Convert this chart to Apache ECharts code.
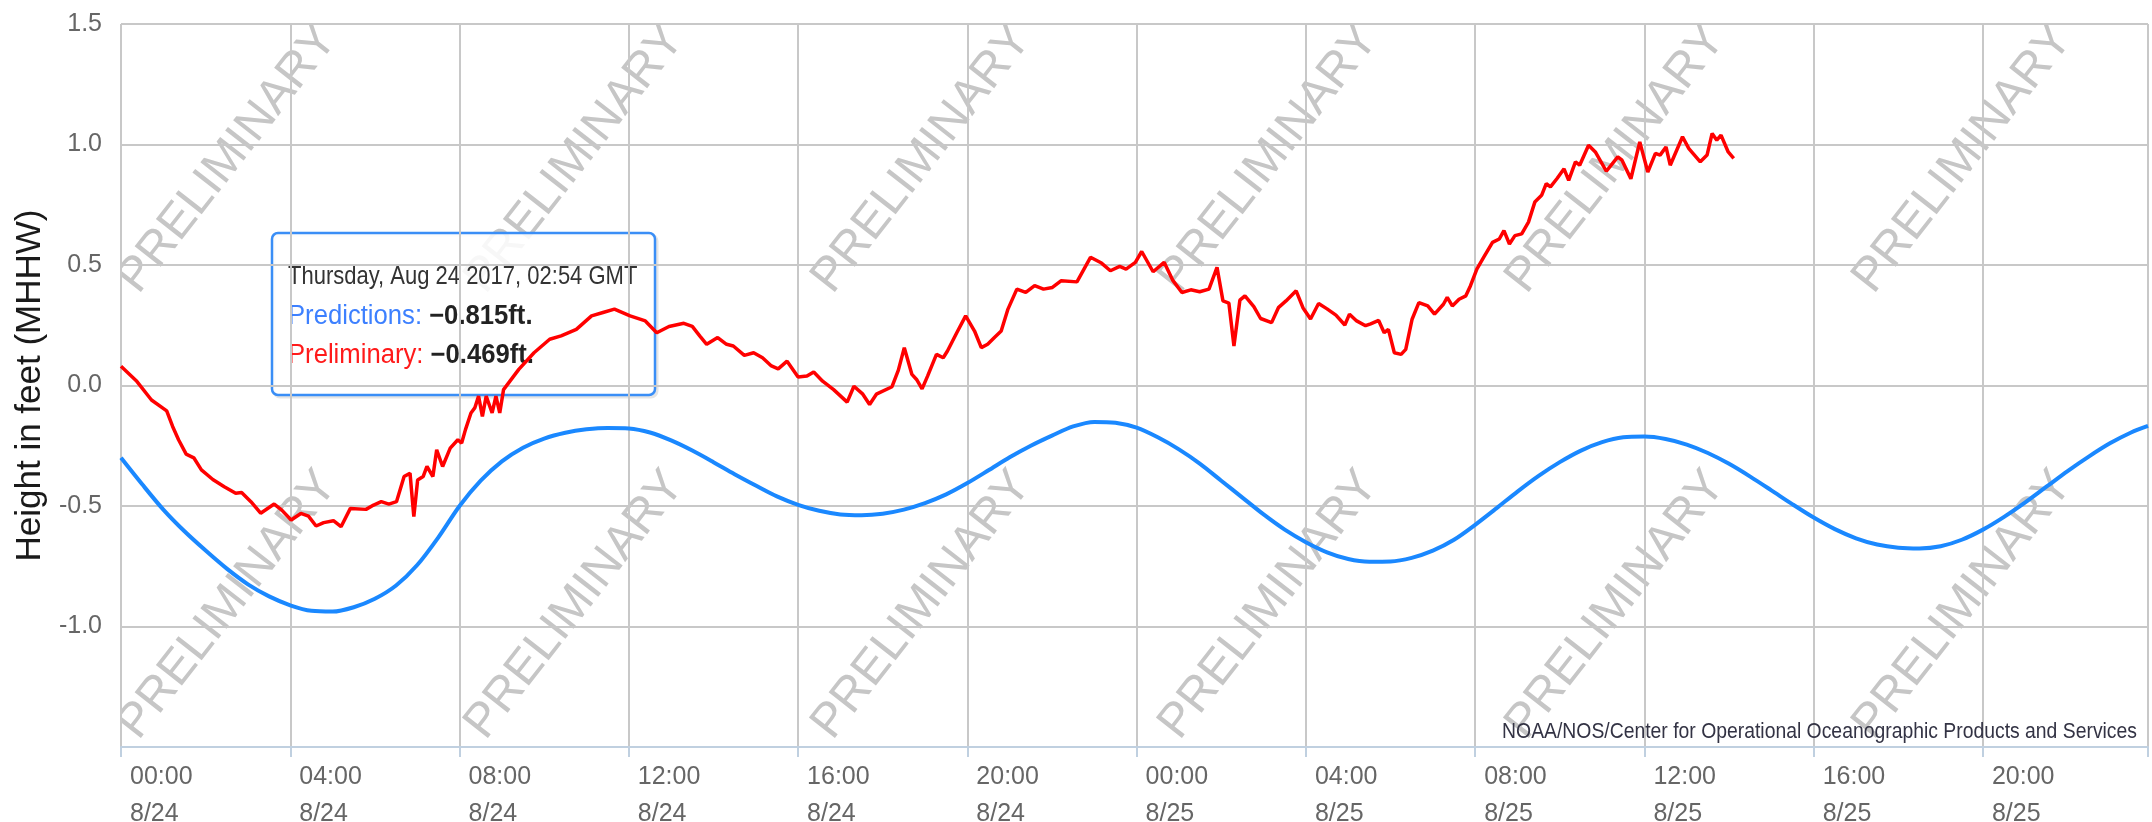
<!DOCTYPE html>
<html>
<head>
<meta charset="utf-8">
<script src="https://cdn.jsdelivr.net/npm/echarts/dist/echarts.min.js"></script>
<style>
html,body{margin:0;padding:0;background:#ffffff;}
#chart{width:2152px;height:822px;}
</style>
</head>
<body>
<div id="chart"></div>
<script>
// ---- data (x = hours since 00:00 GMT 8/24/2017) ----
const xTickLabels = ['00:00\n8/24','04:00\n8/24','08:00\n8/24','12:00\n8/24','16:00\n8/24','20:00\n8/24',
                     '00:00\n8/25','04:00\n8/25','08:00\n8/25','12:00\n8/25','16:00\n8/25','20:00\n8/25'];
const yTickLabels = ['', '-1.0', '-0.5', '0.0', '0.5', '1.0', '1.5'];

const predictions = [
  [0,-0.30],[0.5,-0.41],[1,-0.515],[1.5,-0.605],[2,-0.685],[2.5,-0.76],[3,-0.825],[3.5,-0.875],
  [4,-0.912],[4.5,-0.935],[5,-0.938],[5.5,-0.92],[6,-0.885],[6.5,-0.83],[7,-0.745],[7.5,-0.63],
  [8,-0.50],[8.5,-0.395],[9,-0.315],[9.5,-0.258],[10,-0.22],[10.5,-0.196],[11,-0.182],[11.5,-0.176],
  [12,-0.178],[12.5,-0.195],[13,-0.228],[13.5,-0.27],[14,-0.318],[14.5,-0.368],[15,-0.415],[15.5,-0.46],
  [16,-0.495],[16.5,-0.52],[17,-0.535],[17.5,-0.538],[18,-0.532],[18.5,-0.515],[19,-0.488],[19.5,-0.452],
  [20,-0.405],[20.5,-0.352],[21,-0.298],[21.5,-0.25],[22,-0.208],[22.5,-0.17],[23,-0.151],[23.5,-0.155],
  [24,-0.175],[24.5,-0.215],[25,-0.265],[25.5,-0.325],[26,-0.395],[26.5,-0.465],[27,-0.535],[27.5,-0.598],
  [28,-0.65],[28.5,-0.692],[29,-0.72],[29.5,-0.731],[30,-0.73],[30.5,-0.715],[31,-0.685],[31.5,-0.64],
  [32,-0.578],[32.5,-0.51],[33,-0.44],[33.5,-0.375],[34,-0.318],[34.5,-0.27],[35,-0.235],[35.5,-0.215],
  [36,-0.212],[36.5,-0.222],[37,-0.245],[37.5,-0.28],[38,-0.325],[38.5,-0.378],[39,-0.435],[39.5,-0.493],
  [40,-0.548],[40.5,-0.596],[41,-0.634],[41.5,-0.66],[42,-0.673],[42.5,-0.676],[43,-0.667],[43.5,-0.64],
  [44,-0.598],[44.5,-0.545],[45,-0.485],[45.5,-0.42],[46,-0.355],[46.5,-0.295],[47,-0.24],[47.5,-0.195],
  [47.9,-0.168]
];

const preliminary = [
  [0,0.08],[0.36,0.02],[0.72,-0.06],[1.08,-0.105],[1.22,-0.17],[1.36,-0.225],[1.54,-0.285],[1.72,-0.30],
  [1.9,-0.35],[2.17,-0.39],[2.44,-0.42],[2.71,-0.447],[2.85,-0.444],[3.07,-0.482],[3.3,-0.53],[3.62,-0.492],
  [3.8,-0.517],[4.02,-0.558],[4.25,-0.531],[4.43,-0.542],[4.61,-0.583],[4.79,-0.569],[5.02,-0.561],[5.2,-0.586],
  [5.42,-0.51],[5.79,-0.514],[5.97,-0.496],[6.15,-0.482],[6.33,-0.492],[6.51,-0.482],[6.69,-0.378],[6.83,-0.364],
  [6.92,-0.544],[7.01,-0.392],[7.14,-0.378],[7.23,-0.336],[7.37,-0.378],[7.46,-0.267],[7.6,-0.336],[7.78,-0.26],
  [7.96,-0.225],[8.05,-0.239],[8.14,-0.183],[8.27,-0.114],[8.36,-0.093],[8.45,-0.044],[8.54,-0.128],[8.63,-0.044],
  [8.77,-0.114],[8.86,-0.044],[8.95,-0.114],[9.04,-0.017],[9.4,0.067],[9.76,0.136],[10.13,0.192],[10.4,0.206],
  [10.76,0.233],[11.12,0.289],[11.39,0.303],[11.66,0.317],[12.03,0.289],[12.39,0.268],[12.66,0.219],[12.95,0.245],
  [13.3,0.258],[13.5,0.245],[13.68,0.205],[13.84,0.171],[14.1,0.199],[14.31,0.171],[14.47,0.164],[14.73,0.125],
  [14.95,0.136],[15.16,0.115],[15.37,0.081],[15.53,0.069],[15.74,0.101],[16.0,0.035],[16.21,0.039],[16.37,0.056],
  [16.58,0.018],[16.84,-0.017],[17.16,-0.069],[17.32,-0.003],[17.53,-0.036],[17.69,-0.079],[17.85,-0.036],[18.22,-0.005],
  [18.37,0.064],[18.51,0.157],[18.69,0.046],[18.8,0.025],[18.93,-0.014],[19.06,0.039],[19.27,0.129],[19.43,0.115],
  [19.53,0.143],[19.75,0.219],[19.96,0.289],[20.17,0.226],[20.33,0.157],[20.48,0.171],[20.64,0.199],[20.8,0.226],
  [20.96,0.317],[21.17,0.4],[21.38,0.386],[21.59,0.414],[21.8,0.4],[22.01,0.407],[22.22,0.435],[22.59,0.43],
  [22.91,0.532],[23.17,0.508],[23.38,0.476],[23.6,0.494],[23.75,0.483],[23.97,0.511],[24.12,0.556],[24.39,0.472],
  [24.65,0.511],[24.86,0.435],[25.07,0.386],[25.28,0.397],[25.49,0.389],[25.71,0.4],[25.9,0.49],[26.04,0.351],
  [26.18,0.342],[26.3,0.164],[26.44,0.354],[26.56,0.372],[26.77,0.327],[26.93,0.278],[27.19,0.261],[27.35,0.323],
  [27.53,0.351],[27.77,0.393],[27.93,0.323],[28.11,0.276],[28.3,0.34],[28.5,0.318],[28.71,0.292],[28.92,0.251],
  [29.03,0.296],[29.2,0.268],[29.41,0.248],[29.53,0.256],[29.72,0.27],[29.85,0.219],[29.95,0.233],[30.09,0.136],
  [30.25,0.129],[30.36,0.15],[30.51,0.275],[30.67,0.344],[30.88,0.33],[31.04,0.296],[31.25,0.337],[31.34,0.366],
  [31.46,0.33],[31.62,0.358],[31.78,0.372],[31.89,0.414],[32.04,0.483],[32.2,0.532],[32.41,0.594],[32.57,0.608],
  [32.68,0.643],[32.81,0.587],[32.94,0.622],[33.1,0.629],[33.26,0.678],[33.41,0.761],[33.57,0.789],[33.68,0.838],
  [33.78,0.824],[33.94,0.86],[34.1,0.899],[34.21,0.851],[34.37,0.928],[34.47,0.914],[34.68,0.997],[34.84,0.969],
  [35.1,0.889],[35.37,0.949],[35.47,0.935],[35.68,0.858],[35.89,1.011],[36.08,0.886],[36.26,0.963],[36.37,0.956],
  [36.51,0.99],[36.61,0.914],[36.9,1.032],[37.05,0.983],[37.32,0.928],[37.48,0.956],[37.6,1.046],[37.71,1.018],
  [37.81,1.039],[37.98,0.969],[38.11,0.942]
];

const tooltipHeader = 'Thursday, Aug 24 2017, 02:54 GMT';
const tooltipPred = ['Predictions: ', '\u22120.815ft.'];
const tooltipPrelim = ['Preliminary: ', '\u22120.469ft.'];
const creditText = 'NOAA/NOS/Center for Operational Oceanographic Products and Services';
const watermarkText = 'PRELIMINARY';
const axisTitle = 'Height in feet (MHHW)';

// ---- chart ----
const FONT = '"Liberation Sans", Arial, sans-serif';
const BLUE = '#1a88ff';
const RED = '#ff0000';

const chart = echarts.init(document.getElementById('chart'), null, {renderer: 'canvas'});

const wmCols = [228, 575, 922, 1269, 1616, 1963];
const wmRows = [159, 605];
const graphics = [];
wmRows.forEach(function (cy) {
  wmCols.forEach(function (cx) {
    graphics.push({
      type: 'text', x: cx, y: cy, rotation: 52 * Math.PI / 180,
      z: -2, silent: true,
      style: {text: watermarkText, fill: '#c6c6c6', font: '48px ' + FONT, align: 'center', verticalAlign: 'middle'}
    });
  });
});
// masks keeping the watermark inside the plot area
[[0,0,121,822],[0,747,2152,75],[2148,0,4,822],[0,0,2152,24]].forEach(function (r) {
  graphics.push({type: 'rect', z: -1, silent: true, shape: {x: r[0], y: r[1], width: r[2], height: r[3]}, style: {fill: '#ffffff'}});
});
graphics.push({
  type: 'text', x: 2137, y: 732, z: 9, silent: true, scaleX: 0.88,
  style: {text: creditText, fill: '#333344', font: '22px ' + FONT, align: 'right', verticalAlign: 'middle'}
});
graphics.push({
  type: 'group', z: 10, silent: true,
  children: [
    {type: 'rect', shape: {x: 274, y: 235, width: 383, height: 162, r: 6},
     style: {fill: 'none', stroke: 'rgba(0,0,0,0.10)', lineWidth: 3}},
    {type: 'rect', shape: {x: 272, y: 233, width: 383, height: 162, r: 6},
     style: {fill: 'rgba(255,255,255,0.86)', stroke: '#3a8ef6', lineWidth: 2.5}},
    {type: 'text', x: 288, y: 277, scaleX: 0.88,
     style: {text: tooltipHeader, fill: '#333333', font: '25px ' + FONT, verticalAlign: 'middle'}},
    {type: 'text', x: 288, y: 317, scaleX: 0.95,
     style: {text: '{a|' + tooltipPred[0] + '}{b|' + tooltipPred[1] + '}', verticalAlign: 'middle',
             rich: {a: {fill: '#3d80ff', font: '27px ' + FONT}, b: {fill: '#222222', font: 'bold 27px ' + FONT}}}},
    {type: 'text', x: 288, y: 356, scaleX: 0.95,
     style: {text: '{a|' + tooltipPrelim[0] + '}{b|' + tooltipPrelim[1] + '}', verticalAlign: 'middle',
             rich: {a: {fill: '#ff1a1a', font: '27px ' + FONT}, b: {fill: '#222222', font: 'bold 27px ' + FONT}}}}
  ]
});

const option = {
  animation: false,
  backgroundColor: '#ffffff',
  grid: {left: 121, right: 4, top: 24, bottom: 75, containLabel: false, outerBoundsMode: 'none'},
  xAxis: {
    type: 'value', min: 0, max: 47.9, interval: 4,
    axisLine: {show: true, onZero: false, lineStyle: {color: '#c0d0e0', width: 2}},
    axisTick: {show: true, length: 10, lineStyle: {color: '#c0d0e0', width: 2}},
    splitLine: {show: true, lineStyle: {color: '#c8c8c8', width: 2}},
    axisLabel: {
      show: true, margin: 12, align: 'left', padding: [0, 0, 0, 9],
      color: '#666666', fontFamily: FONT, fontSize: 25, lineHeight: 37,
      formatter: function (v) {
        const i = Math.round(v / 4);
        return (Math.abs(v - i * 4) < 1e-6 && i < xTickLabels.length) ? xTickLabels[i] : '';
      }
    }
  },
  yAxis: {
    type: 'value', min: -1.5, max: 1.5, interval: 0.5,
    name: axisTitle, nameLocation: 'middle', nameGap: 70,
    nameTextStyle: {fontFamily: FONT, fontSize: 35, color: '#1a1a1a'},
    axisLine: {show: false}, axisTick: {show: false},
    splitLine: {show: true, lineStyle: {color: '#c8c8c8', width: 2}},
    axisLabel: {
      margin: 19, color: '#666666', fontFamily: FONT, fontSize: 25,
      formatter: function (v) {
        const i = Math.round((v + 1.5) / 0.5);
        return yTickLabels[i] !== undefined ? yTickLabels[i] : '';
      }
    }
  },
  series: [
    {name: 'Predictions', type: 'line', data: predictions, smooth: 0.3, showSymbol: false,
     lineStyle: {color: BLUE, width: 4}, itemStyle: {color: BLUE}, z: 3},
    {name: 'Preliminary', type: 'line', data: preliminary, smooth: false, showSymbol: false,
     lineStyle: {color: RED, width: 3.5}, itemStyle: {color: RED}, z: 4}
  ],
  graphic: {elements: graphics}
};
chart.setOption(option);
</script>
</body>
</html>
